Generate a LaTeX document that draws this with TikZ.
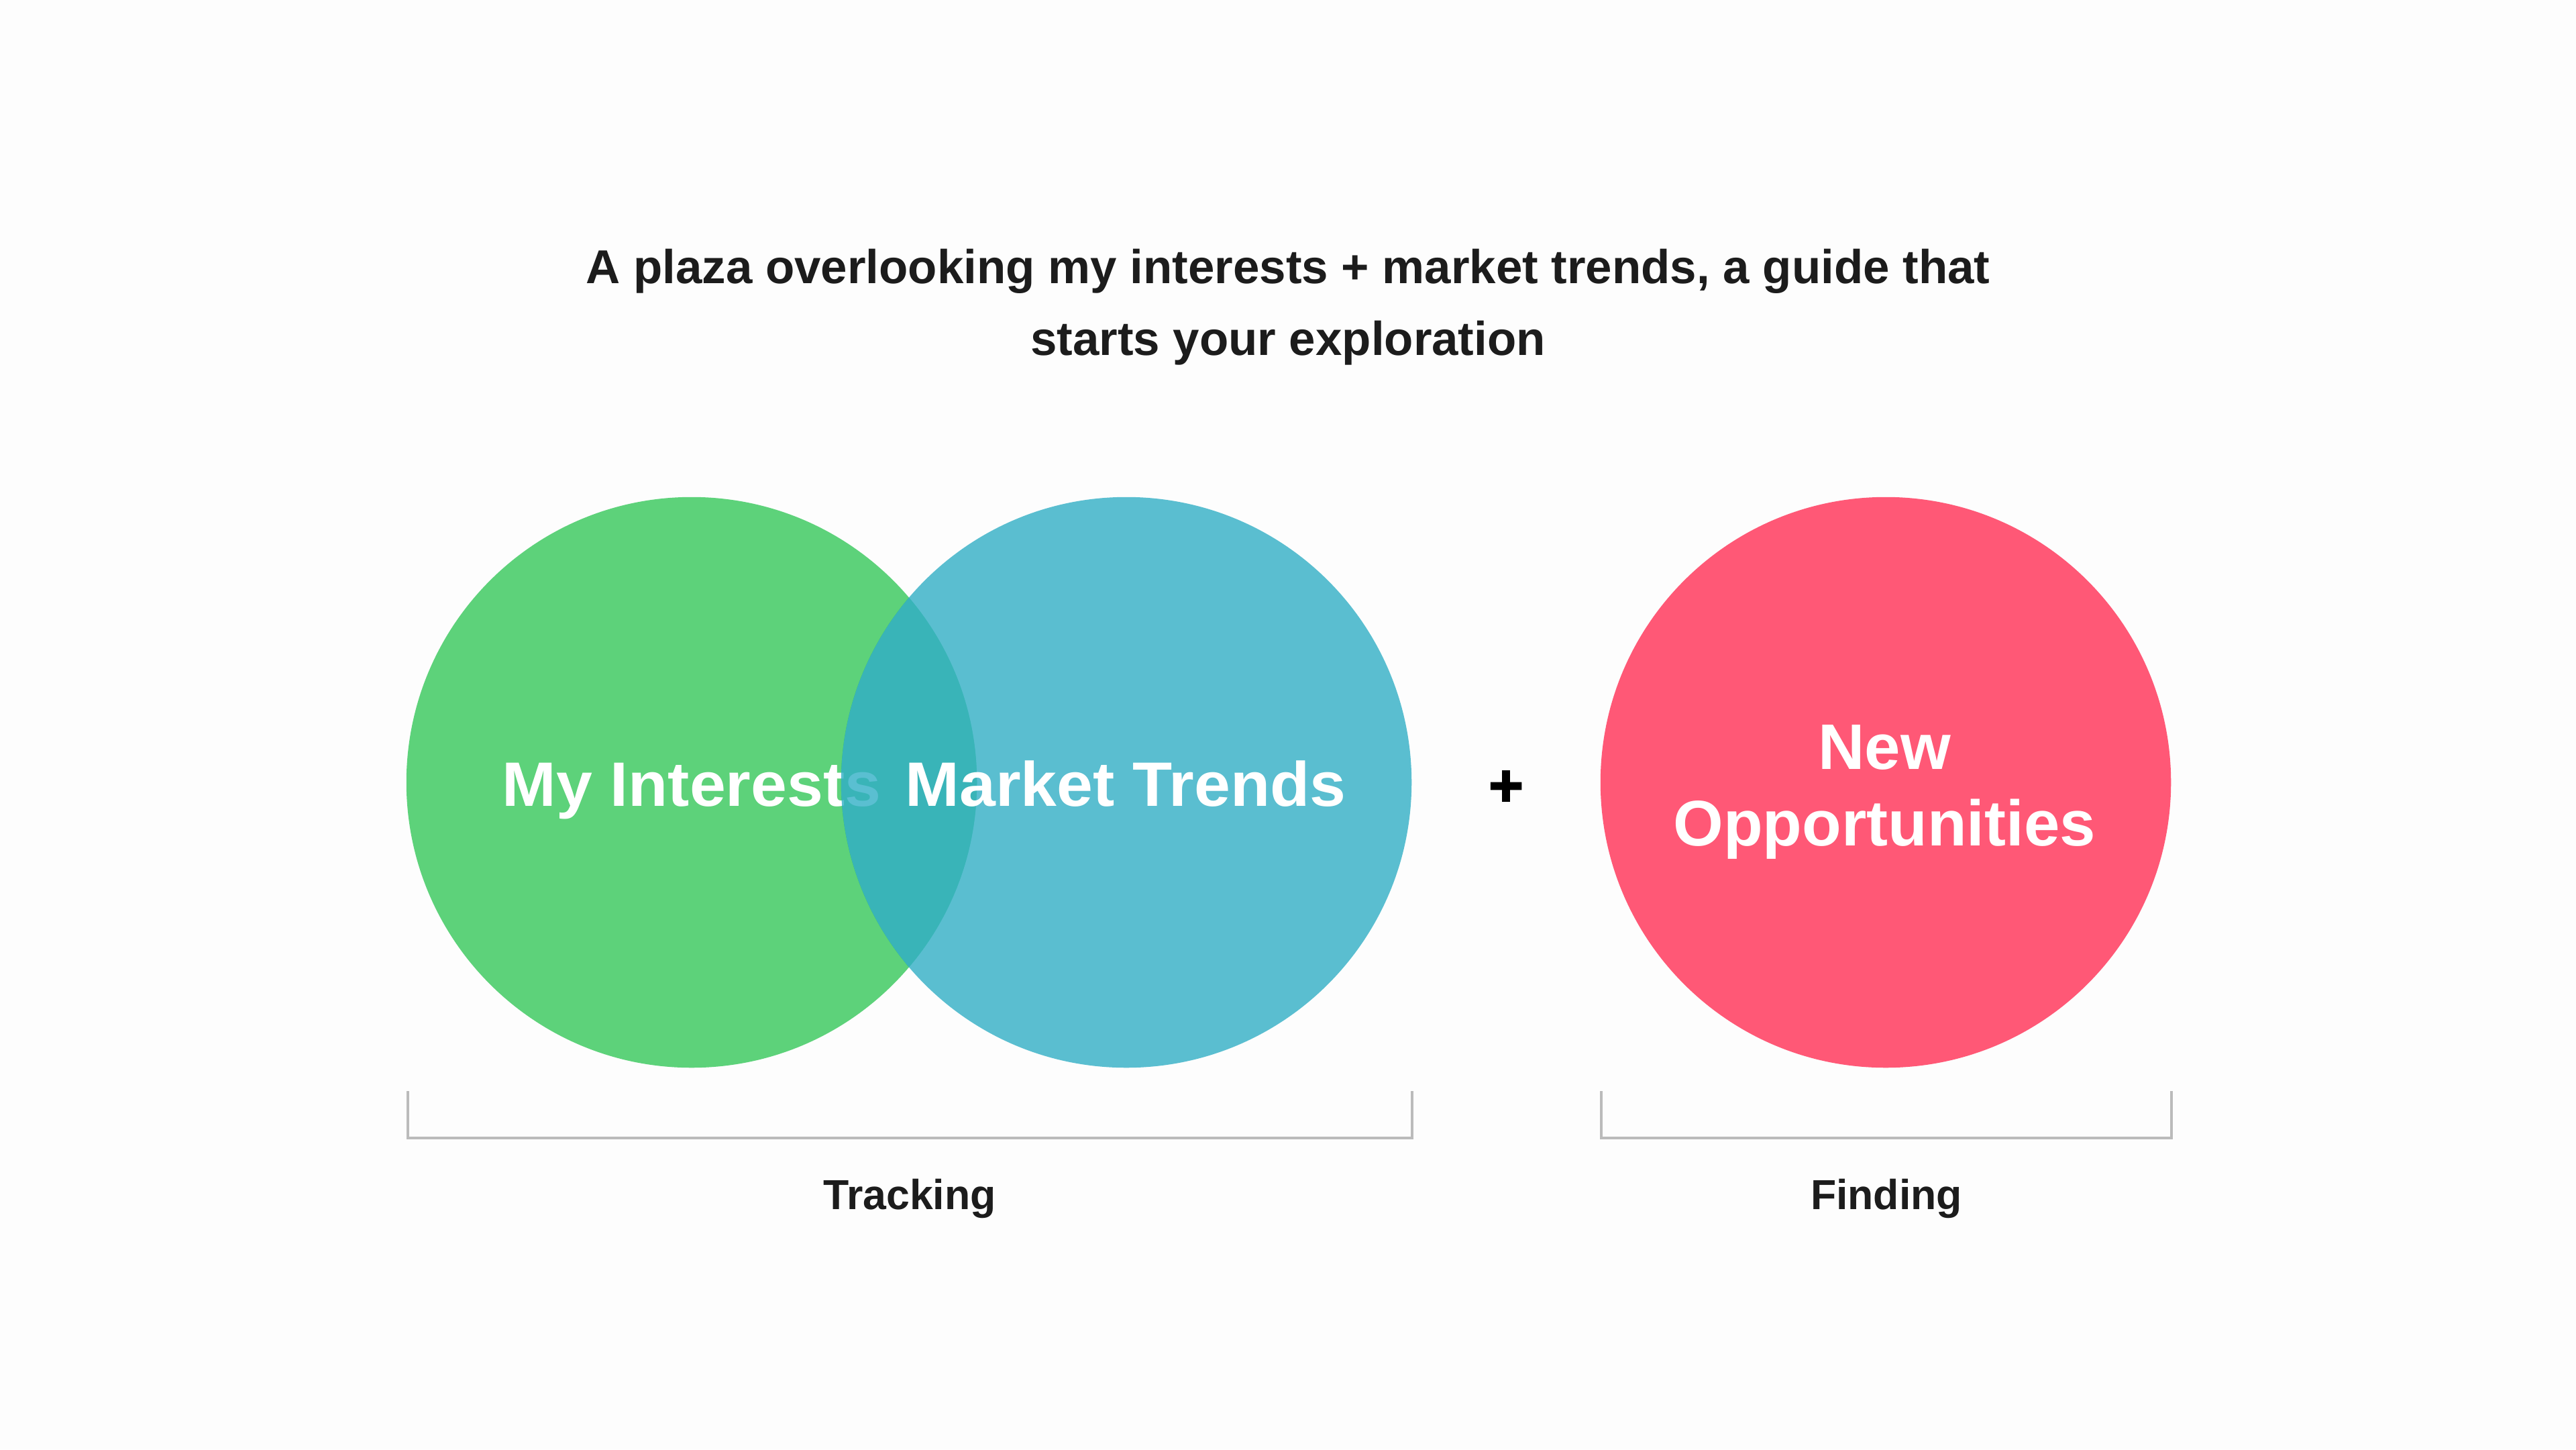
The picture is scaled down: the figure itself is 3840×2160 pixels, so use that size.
\documentclass[tikz,border=0pt]{standalone}
\usepackage{fontspec}
\setmainfont{Liberation Sans}
\newfontfamily\widesans[FakeStretch=1.035]{Liberation Sans}
\newfontfamily\plusfont[FakeBold=2.5]{Liberation Sans}
\definecolor{bg}{HTML}{FDFDFD}
\definecolor{cgreen}{HTML}{5DD27A}
\definecolor{cblueover}{HTML}{3EB4C9}
\definecolor{cunder}{HTML}{21BA5D}
\definecolor{cred}{HTML}{FF5876}
\definecolor{ink}{HTML}{1C1C1C}
\definecolor{brk}{HTML}{BBBBBB}
\begin{document}
\begin{tikzpicture}[x=0.01cm,y=-0.01cm,
  blob/.style={circle,minimum size=8.5cm,inner sep=0pt,outer sep=0pt},
  circtext/.style={font=\widesans\bfseries\fontsize{26.6pt}{32pt}\selectfont,text=white,inner sep=0pt},
  labeltext/.style={font=\bfseries\fontsize{17.8pt}{20pt}\selectfont,text=ink,inner sep=0pt},
  bracket/.style={draw=brk,line width=1pt}]
\fill[bg] (0,0) rectangle (3840,2160);
\useasboundingbox (0,0) rectangle (3840,2160);
% title
\node[font=\bfseries\fontsize{20.15pt}{30.4pt}\selectfont,text=ink,align=center] (title) at (1920,458)
  {A plaza overlooking my interests + market trends, a guide that\\starts your exploration};
% green circle, with the colour under the overlap
\node[blob,fill=cgreen] (gc) at (1031,1166) {};
\begin{scope}
  \clip (1031,1166) circle (4.25cm);
  \fill[cunder] (1679,1166) circle (4.25cm);
\end{scope}
\node[circtext,anchor=base] (mi) at (1031,1201) {My Interests};
% translucent blue circle over it
\node[blob,fill=cblueover,fill opacity=0.85] (bc) at (1679,1166) {};
\node[circtext,anchor=base] (mt) at (1678,1201) {Market Trends};
% red circle
\node[blob,fill=cred] (rc) at (2811,1166) {};
\node[circtext,align=center,font=\bfseries\fontsize{27.3pt}{32.4pt}\selectfont] (no) at (2809,1180) {New\\Opportunities};
% plus
\node[font=\plusfont\bfseries\fontsize{25pt}{25pt}\selectfont,text=black,inner sep=0pt] (plus) at (2245,1175) {+};
% brackets
\draw[bracket] (608,1626) -- (608,1696) -- (2105,1696) -- (2105,1626);
\draw[bracket] (2387,1626) -- (2387,1696) -- (3237,1696) -- (3237,1626);
\node[labeltext,anchor=base] (tr) at (1356,1802) {Tracking};
\node[labeltext,anchor=base] (fi) at (2812,1802) {Finding};
\end{tikzpicture}
\end{document}
